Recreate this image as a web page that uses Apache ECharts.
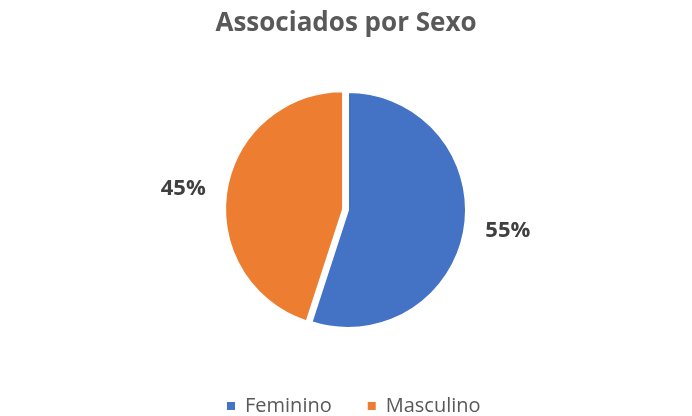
<!DOCTYPE html>
<html>
<head>
<meta charset="utf-8">
<script src="https://cdn.jsdelivr.net/npm/echarts@6/dist/echarts.min.js"></script>
<style>
  html, body { margin: 0; padding: 0; background: #fff; }
  #pie { width: 692px; height: 416px; }
</style>
</head>
<body>
<div id="pie"></div>
<script>
var categories = ['Feminino', 'Masculino'];
var values = [55, 45];
var colors = ['#4472C4', '#ED7D31'];

var chart = echarts.init(document.getElementById('pie'));

var data = [];
for (var i = 0; i < categories.length; i++) {
    data.push({
        name: categories[i],
        value: values[i],
        selected: i === 1,
        itemStyle: { color: colors[i] }
    });
}

chart.setOption({
    animation: false,
    title: {
        text: 'Associados por Sexo',
        left: 'center',
        top: 6,
        textStyle: {
            fontFamily: 'Open Sans',
            fontWeight: 'bold',
            fontSize: 26,
            color: '#595959'
        }
    },
    legend: {
        bottom: -5,
        left: 220,
        icon: 'rect',
        itemWidth: 10,
        itemHeight: 10,
        itemGap: 34,
        textStyle: {
            fontFamily: 'Open Sans',
            fontSize: 20,
            color: '#595959',
            padding: [0, 0, 0, 4]
        },
        data: categories
    },
    series: [{
        type: 'pie',
        center: [348, 210],
        radius: 118,
        startAngle: 90,
        clockwise: true,
        selectedMode: 'single',
        selectedOffset: 5,
        itemStyle: { borderColor: '#fff', borderWidth: 2 },
        label: {
            show: true,
            position: 'outside',
            formatter: '{d}%',
            fontFamily: 'Open Sans',
            fontWeight: 'bold',
            fontSize: 22,
            color: '#404040'
        },
        labelLine: { show: false, length: 16, length2: 0 },
        emphasis: { disabled: true },
        data: data
    }]
});
</script>
</body>
</html>
